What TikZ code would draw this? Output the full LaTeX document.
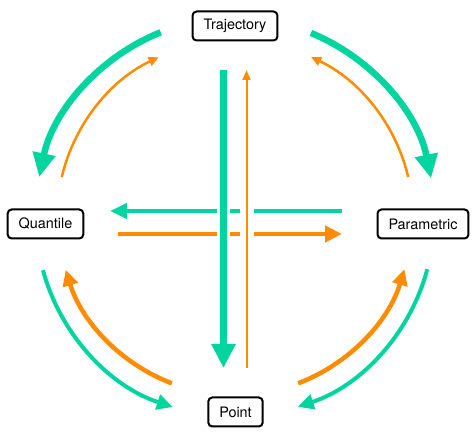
\documentclass[tikz,border=0pt]{standalone}
\usepackage{fontspec}
\setmainfont{TeX Gyre Heros}
\usetikzlibrary{arrows.meta}
\definecolor{gr}{HTML}{00D49F}
\definecolor{og}{HTML}{FF8C00}
\begin{document}
\begin{tikzpicture}[x=1pt,y=1pt,
  box/.style={draw, line width=2pt, rounded corners=4pt, inner xsep=11pt, inner ysep=0pt,
    minimum height=29pt, font=\fontsize{14.4}{16}\selectfont},
  gthick/.style={draw=gr, line width=6.5pt, -{Triangle[length=24pt,width=22pt]}},
  othin/.style={draw=og, line width=2.5pt, -{Triangle[length=10pt,width=9pt]}},
  gmid/.style={draw=gr, line width=4pt, -{Triangle[length=16pt,width=15pt]}},
  omid/.style={draw=og, line width=4.5pt, -{Triangle[length=16pt,width=15pt]}},
  ghor/.style={draw=gr, line width=4.5pt, -{Triangle[length=17pt,width=15pt]}},
  ohor/.style={draw=og, line width=4.5pt, -{Triangle[length=17pt,width=16pt]}},
  gvert/.style={draw=gr, line width=7pt, -{Triangle[length=24pt,width=23pt]}},
  overt/.style={draw=og, line width=2pt, -{Triangle[length=10pt,width=8pt]}},
  gap/.style={draw=white, line width=#1}
]
\useasboundingbox (0,0) rectangle (476,438);

\node[box] (traj) at (235,412) {Trajectory};
\node[box] (quant) at (45.5,214) {Quantile};
\node[box] (param) at (423,214) {Parametric};
\node[box] (point) at (235.5,26) {Point};

\coordinate (C) at (235,220);

% top-left
\path (C) ++(111.8:200) coordinate (tlg);
\draw[gthick] (tlg) arc[start angle=111.8, end angle=168.2, radius=200];
\path (C) ++(166.7:178) coordinate (tlo);
\draw[othin] (tlo) arc[start angle=166.7, end angle=115.4, radius=178];
% top-right
\path (C) ++(67.7:200) coordinate (trg);
\draw[gthick] (trg) arc[start angle=67.7, end angle=11.4, radius=200];
\path (C) ++(13.3:178) coordinate (tro);
\draw[othin] (tro) arc[start angle=13.3, end angle=64.7, radius=178];
% bottom-left
\path (C) ++(195.2:199) coordinate (blg);
\draw[gmid] (blg) arc[start angle=195.2, end angle=251.8, radius=199];
\path (C) ++(249.1:177) coordinate (blo);
\draw[omid] (blo) arc[start angle=249.1, end angle=197, radius=177];
% bottom-right
\path (C) ++(290.9:177) coordinate (bro);
\draw[omid] (bro) arc[start angle=290.9, end angle=343.2, radius=177];
\path (C) ++(345.1:199) coordinate (brg);
\draw[gmid] (brg) arc[start angle=345.1, end angle=288.4, radius=199];

% horizontal
\coordinate (hg1) at (342,227);
\coordinate (hg2) at (110,227);
\coordinate (ho1) at (118,204);
\coordinate (ho2) at (342,204);
\draw[ghor] (hg1) -- (hg2);
\draw[ohor] (ho1) -- (ho2);

% vertical
\coordinate (vg1) at (223.5,368);
\coordinate (vg2) at (223.5,70);
\coordinate (vo1) at (246.5,70);
\coordinate (vo2) at (246.5,368);
\draw[gap=13pt] (223.5,190) -- (223.5,245);
\draw[gap=14pt] (247,190) -- (247,245);
\draw[gvert] (vg1) -- (vg2);
\draw[overt] (vo1) -- (vo2);
\end{tikzpicture}
\end{document}
